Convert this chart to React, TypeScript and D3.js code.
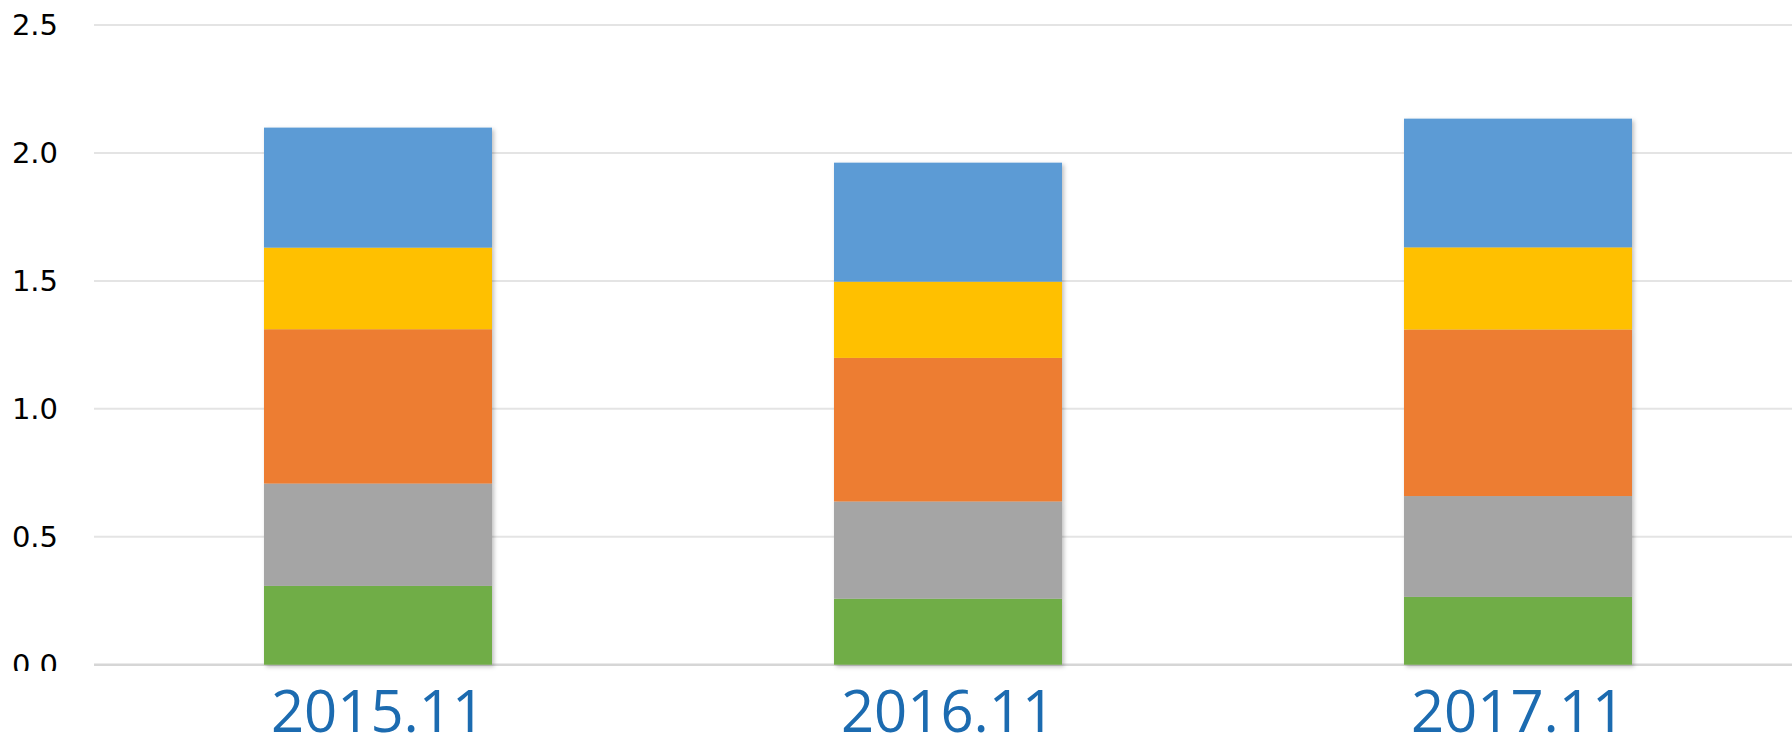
import * as d3 from 'd3'
import { useEffect, useRef } from 'react'

const width = 1792
const height = 737
const marginTop = 25
const marginRight = -11
const marginBottom = 73
const marginLeft = 93

// categories along the x axis
const periods = ['2015.11', '2016.11', '2017.11']

// series, stacked bottom to top
const seriesNames = ['s1', 's2', 's3', 's4', 's5']
const seriesColors = ['#70AD47', '#A5A5A5', '#ED7D31', '#FFC000', '#5B9BD5']

const s1 = [0.308, 0.258, 0.265]
const s2 = [0.4, 0.38, 0.394]
const s3 = [0.603, 0.561, 0.651]
const s4 = [0.319, 0.298, 0.321]
const s5 = [0.469, 0.465, 0.503]

const yTicks = [0, 0.5, 1.0, 1.5, 2.0, 2.5]

export default function App() {
  const ref = useRef(null)

  useEffect(() => {
    const svg = d3.select(ref.current)
    svg.selectAll('*').remove()

    const values = [s1, s2, s3, s4, s5]
    const rows = periods.map((p, i) => {
      const row: Record<string, any> = { period: p }
      seriesNames.forEach((k, j) => (row[k] = values[j][i]))
      return row
    })
    const stacked = d3.stack<any>().keys(seriesNames)(rows)

    const x = d3
      .scaleBand()
      .domain(periods)
      .range([marginLeft, width - marginRight])
      .paddingInner(0.6)
      .paddingOuter(0.3)

    const y = d3.scaleLinear([0, 2.5], [height - marginBottom + 0.7, marginTop])

    const defs = svg.append('defs')
    defs
      .append('filter')
      .attr('id', 'shadow')
      .attr('x', '-10%')
      .attr('y', '-10%')
      .attr('width', '120%')
      .attr('height', '120%')
      .append('feDropShadow')
      .attr('dx', 2)
      .attr('dy', 2)
      .attr('stdDeviation', 2)
      .attr('flood-color', '#000')
      .attr('flood-opacity', 0.25)
    defs
      .append('clipPath')
      .attr('id', 'ylabels')
      .append('rect')
      .attr('x', 0)
      .attr('y', 0)
      .attr('width', marginLeft)
      .attr('height', 671)

    // grid lines
    svg
      .append('g')
      .selectAll('line')
      .data(yTicks)
      .join('line')
      .attr('x1', marginLeft + 1)
      .attr('x2', width)
      .attr('y1', d => y(d))
      .attr('y2', d => y(d))
      .attr('stroke', d => (d === 0 ? '#d6d6d6' : '#e4e4e4'))
      .attr('stroke-width', d => (d === 0 ? 2.5 : 2))

    // y labels (the bottom one is clipped like in the original)
    svg
      .append('g')
      .attr('clip-path', 'url(#ylabels)')
      .selectAll('text')
      .data(yTicks)
      .join('text')
      .attr('x', 58)
      .attr('y', d => y(d))
      .attr('dy', '0.36em')
      .attr('text-anchor', 'end')
      .attr('font-family', 'DejaVu Sans, sans-serif')
      .attr('font-size', 29)
      .attr('fill', '#000')
      .text(d => d.toFixed(1))

    // bars
    const bars = svg.append('g').attr('filter', 'url(#shadow)')
    bars
      .selectAll('g')
      .data(stacked)
      .join('g')
      .attr('fill', (_, i) => seriesColors[i])
      .selectAll('rect')
      .data(d => d)
      .join('rect')
      .attr('x', d => x(d.data.period)!)
      .attr('width', x.bandwidth())
      .attr('y', d => y(d[1]))
      .attr('height', d => y(d[0]) - y(d[1]))

    // x labels
    svg
      .append('g')
      .selectAll('text')
      .data(periods)
      .join('text')
      .attr('x', d => x(d)! + x.bandwidth() / 2)
      .attr('y', 731.5)
      .attr('text-anchor', 'middle')
      .attr('font-family', 'Open Sans, sans-serif')
      .attr('font-size', 58)
      .attr('fill', '#1C6BB0')
      .text(d => d)
  }, [])

  return (
    <svg
      ref={ref}
      width={width}
      height={height}
      viewBox={`0 0 ${width} ${height}`}
      style={{ position: 'absolute', left: 0, top: 0, display: 'block', background: '#fff' }}
    ></svg>
  )
}
